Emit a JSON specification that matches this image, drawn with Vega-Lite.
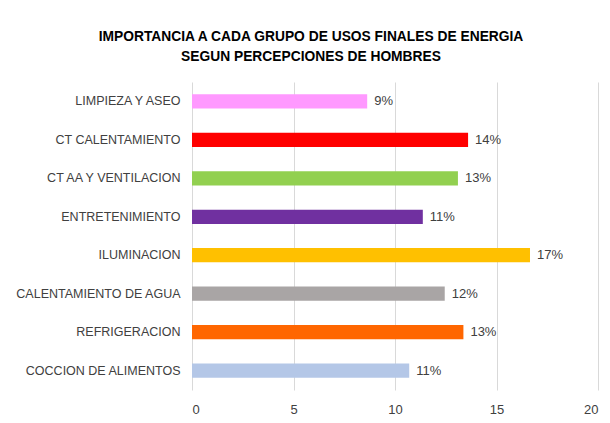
{
  "$schema": "https://vega.github.io/schema/vega-lite/v6.json",
  "autosize": {"type": "none"},
  "width": 406,
  "height": 308,
  "padding": {"left": 192, "top": 82, "right": 12, "bottom": 33},
  "background": "white",
  "title": {
    "text": ["IMPORTANCIA A CADA GRUPO DE USOS FINALES DE ENERGIA", "SEGUN PERCEPCIONES DE HOMBRES"],
    "anchor": "middle",
    "dx": -84,
    "offset": 18,
    "font": "Liberation Sans",
    "fontSize": 13.8,
    "fontWeight": "bold",
    "color": "#000000",
    "lineHeight": 20
  },
  "data": {
    "values": [
      {"categoria": "LIMPIEZA Y ASEO", "valor": 8.63, "etiqueta": "9%", "color": "#FF99FF"},
      {"categoria": "CT CALENTAMIENTO", "valor": 13.6, "etiqueta": "14%", "color": "#FF0000"},
      {"categoria": "CT AA Y VENTILACION", "valor": 13.1, "etiqueta": "13%", "color": "#92D050"},
      {"categoria": "ENTRETENIMIENTO", "valor": 11.37, "etiqueta": "11%", "color": "#7030A0"},
      {"categoria": "ILUMINACION", "valor": 16.65, "etiqueta": "17%", "color": "#FFC000"},
      {"categoria": "CALENTAMIENTO DE AGUA", "valor": 12.45, "etiqueta": "12%", "color": "#A9A5A5"},
      {"categoria": "REFRIGERACION", "valor": 13.37, "etiqueta": "13%", "color": "#FF6600"},
      {"categoria": "COCCION DE ALIMENTOS", "valor": 10.7, "etiqueta": "11%", "color": "#B4C7E7"}
    ]
  },
  "encoding": {
    "y": {
      "field": "categoria",
      "type": "nominal",
      "sort": null,
      "scale": {"paddingInner": 0.63, "paddingOuter": 0.32},
      "axis": {
        "title": null,
        "domain": false,
        "ticks": false,
        "grid": false,
        "labelPadding": 12,
        "labelFont": "Liberation Sans",
        "labelFontSize": 12.5,
        "labelLimit": 200,
        "labelColor": "#404040"
      }
    },
    "x": {
      "field": "valor",
      "type": "quantitative",
      "scale": {"domain": [0, 20]},
      "axis": {
        "title": null,
        "values": [0, 5, 10, 15, 20],
        "domain": false,
        "ticks": false,
        "grid": true,
        "gridColor": "#D9D9D9",
        "gridWidth": 1,
        "labelPadding": 13,
        "labelFont": "Liberation Sans",
        "labelFontSize": 13,
        "labelColor": "#404040"
      }
    }
  },
  "layer": [
    {
      "mark": {"type": "bar"},
      "encoding": {
        "color": {"field": "color", "type": "nominal", "scale": null, "legend": null}
      }
    },
    {
      "mark": {"type": "text", "align": "left", "baseline": "middle", "dx": 7, "font": "Liberation Sans", "fontSize": 13, "color": "#404040"},
      "encoding": {
        "text": {"field": "etiqueta", "type": "nominal"}
      }
    }
  ],
  "config": {
    "view": {"stroke": null}
  }
}
